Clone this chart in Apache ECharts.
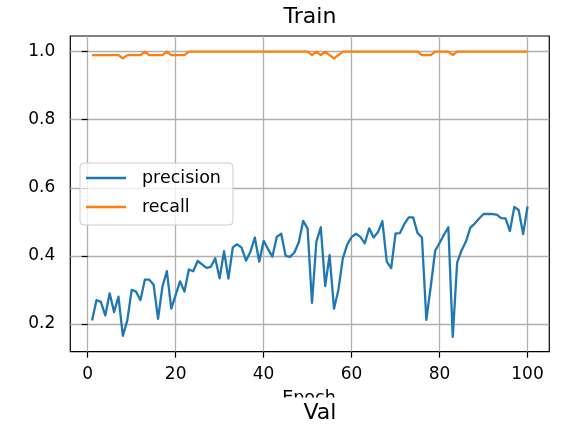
<!DOCTYPE html>
<html>
<head>
<meta charset="utf-8">
<title>Train</title>
<script src="https://cdn.jsdelivr.net/npm/echarts@6/dist/echarts.min.js"></script>
<style>
  html, body { margin: 0; padding: 0; background: #ffffff; }
  #chart { width: 568px; height: 428px; }
</style>
</head>
<body>
<div id="chart"></div>
<script>
// Epoch numbers
const epochs = [
  1, 2, 3, 4, 5, 6, 7, 8, 9, 10,
  11, 12, 13, 14, 15, 16, 17, 18, 19, 20,
  21, 22, 23, 24, 25, 26, 27, 28, 29, 30,
  31, 32, 33, 34, 35, 36, 37, 38, 39, 40,
  41, 42, 43, 44, 45, 46, 47, 48, 49, 50,
  51, 52, 53, 54, 55, 56, 57, 58, 59, 60,
  61, 62, 63, 64, 65, 66, 67, 68, 69, 70,
  71, 72, 73, 74, 75, 76, 77, 78, 79, 80,
  81, 82, 83, 84, 85, 86, 87, 88, 89, 90,
  91, 92, 93, 94, 95, 96, 97, 98, 99, 100
];

// Training precision per epoch
const precision = [
  0.210, 0.270, 0.265, 0.225, 0.290, 0.235, 0.280, 0.165, 0.210, 0.300,
  0.295, 0.270, 0.330, 0.330, 0.315, 0.215, 0.310, 0.355, 0.245, 0.285,
  0.325, 0.295, 0.360, 0.355, 0.385, 0.375, 0.365, 0.368, 0.393, 0.334,
  0.414, 0.333, 0.425, 0.434, 0.424, 0.386, 0.412, 0.454, 0.383, 0.444,
  0.420, 0.398, 0.456, 0.465, 0.400, 0.397, 0.410, 0.440, 0.503, 0.480,
  0.262, 0.442, 0.484, 0.311, 0.402, 0.245, 0.300, 0.392, 0.433, 0.455,
  0.465, 0.456, 0.437, 0.481, 0.454, 0.470, 0.502, 0.383, 0.364, 0.466,
  0.467, 0.494, 0.513, 0.513, 0.467, 0.454, 0.212, 0.310, 0.415, 0.438,
  0.462, 0.484, 0.162, 0.380, 0.416, 0.442, 0.483, 0.495, 0.510, 0.523,
  0.523, 0.523, 0.521, 0.511, 0.510, 0.473, 0.544, 0.534, 0.464, 0.545
];

// Training recall per epoch
const recall = [
  0.99, 0.99, 0.99, 0.99, 0.99, 0.99, 0.99, 0.98, 0.99, 0.99,
  0.99, 0.99, 1.00, 0.99, 0.99, 0.99, 0.99, 1.00, 0.99, 0.99,
  0.99, 0.99, 1.00, 1.00, 1.00, 1.00, 1.00, 1.00, 1.00, 1.00,
  1.00, 1.00, 1.00, 1.00, 1.00, 1.00, 1.00, 1.00, 1.00, 1.00,
  1.00, 1.00, 1.00, 1.00, 1.00, 1.00, 1.00, 1.00, 1.00, 1.00,
  0.99, 1.00, 0.99, 1.00, 0.99, 0.98, 0.99, 1.00, 1.00, 1.00,
  1.00, 1.00, 1.00, 1.00, 1.00, 1.00, 1.00, 1.00, 1.00, 1.00,
  1.00, 1.00, 1.00, 1.00, 1.00, 0.99, 0.99, 0.99, 1.00, 1.00,
  1.00, 1.00, 0.99, 1.00, 1.00, 1.00, 1.00, 1.00, 1.00, 1.00,
  1.00, 1.00, 1.00, 1.00, 1.00, 1.00, 1.00, 1.00, 1.00, 1.00
];

const xTicks = [0, 20, 40, 60, 80, 100];
const yTicks = [0.2, 0.4, 0.6, 0.8, 1.0];

const FONT = 'DejaVu Sans';
const BLUE = '#1f77b4';
const ORANGE = '#ff7f0e';

const chart = echarts.init(document.getElementById('chart'), null, { renderer: 'canvas' });

function pairs(xs, ys) {
  return xs.map((x, i) => [x, ys[i]]);
}

const option = {
  backgroundColor: '#ffffff',
  animation: false,
  grid: {
    left: 70.3, right: 18.7, top: 36, bottom: 76.3,
    show: true, borderColor: '#000000', borderWidth: 1.2,
    backgroundColor: 'transparent'
  },
  xAxis: {
    type: 'value',
    min: -3.95, max: 104.95,
    axisLine: { show: false },
    axisTick: { show: true, inside: false, length: 6, customValues: xTicks,
                lineStyle: { color: '#000000', width: 1.2 } },
    axisLabel: { customValues: xTicks, margin: 14, fontFamily: FONT, fontSize: 17, color: '#000000' },
    splitLine: { show: true, lineStyle: { color: '#b0b0b0', width: 1.3 } }
  },
  yAxis: {
    type: 'value',
    min: 0.1185, max: 1.046,
    axisLine: { show: false },
    axisTick: { show: true, inside: false, length: 6, customValues: yTicks,
                lineStyle: { color: '#000000', width: 1.2 } },
    axisLabel: { customValues: yTicks, margin: 15, fontFamily: FONT, fontSize: 17, color: '#000000',
                 formatter: v => v.toFixed(1) },
    splitLine: { show: true, lineStyle: { color: '#b0b0b0', width: 1.3 } }
  },
  legend: {
    orient: 'vertical',
    left: 80, top: 163,
    data: [
      { name: 'precision', icon: 'rect' },
      { name: 'recall', icon: 'rect' }
    ],
    itemWidth: 40, itemHeight: 2.4, itemGap: 9,
    padding: [5, 12, 8, 6],
    backgroundColor: 'rgba(255,255,255,0.8)',
    borderColor: '#cccccc', borderWidth: 1, borderRadius: 4,
    textStyle: { fontFamily: FONT, fontSize: 17.5, color: '#000000', lineHeight: 20,
                 padding: [0, 0, 0, 11] }
  },
  series: [
    {
      name: 'precision', type: 'line', data: pairs(epochs, precision),
      showSymbol: false, symbol: 'none',
      lineStyle: { color: BLUE, width: 2.3, join: 'round' }, itemStyle: { color: BLUE },
      z: 3
    },
    {
      name: 'recall', type: 'line', data: pairs(epochs, recall),
      showSymbol: false, symbol: 'none',
      lineStyle: { color: ORANGE, width: 2.3, join: 'round' }, itemStyle: { color: ORANGE },
      z: 4
    }
  ],
  graphic: [
    { type: 'text', x: 310, y: 17, z: 10,
      style: { text: 'Train', font: '22px "DejaVu Sans"', fill: '#000000', align: 'center', verticalAlign: 'middle' } },
    { type: 'text', x: 309, y: 389, z: 10,
      style: { text: 'Epoch', font: '17.5px "DejaVu Sans"', fill: '#000000', align: 'center', verticalAlign: 'top' } },
    { type: 'rect', shape: { x: 0, y: 397.5, width: 568, height: 30.5 }, z: 11,
      style: { fill: '#ffffff' } },
    { type: 'text', x: 320, y: 413, z: 12,
      style: { text: 'Val', font: '22px "DejaVu Sans"', fill: '#000000', align: 'center', verticalAlign: 'middle' } }
  ]
};

chart.setOption(option);
</script>
</body>
</html>
